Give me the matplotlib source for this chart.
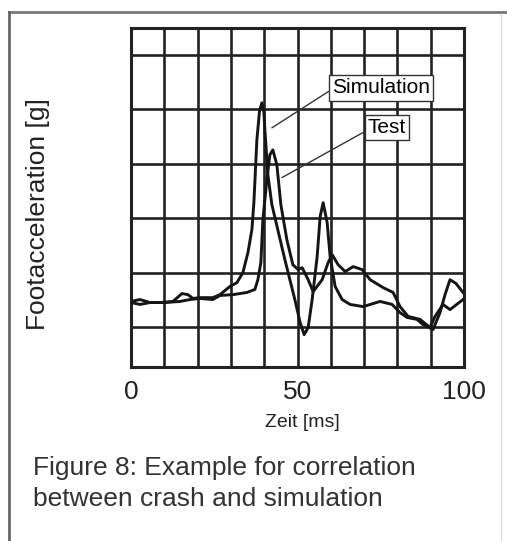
import matplotlib
matplotlib.use("Agg")
import matplotlib.pyplot as plt
from matplotlib.lines import Line2D

plt.rcParams['font.family'] = ['Liberation Sans', 'DejaVu Sans']

# values (time in ms, acceleration in g)
sim_t = [0, 2.7, 5.7, 8.7, 12.6, 15.3, 17.1, 18.6, 20.7, 24.6, 26.7, 29.7, 31.8, 33.6,
         35.1, 36.3, 36.9, 37.8, 38.6, 39.3, 39.9, 40.2, 41.1, 42.3, 46.2, 49.2, 50.8, 52.0, 53.2,
         54.4, 55.9, 56.8, 57.7, 58.9, 59.8, 61.3, 63.4, 65.8, 69.7, 74.8, 78.4, 80.8,
         82.9, 85.9, 87.7, 90.7, 92.8, 94.3, 95.8, 97.6, 99.7]
sim_g = [-10.6, -9.9, -11.0, -11.0, -10.6, -7.7, -8.1, -9.5, -9.2, -9.2, -8.1, -5.1, -3.7, 0.0,
         7.3, 15.8, 25.7, 48.8, 59.5, 62.4, 59.0, 52.5, 36.0, 25.0, 4.8, -9.9, -18.4, -22.8, -20.2,
         -9.9, 5.9, 20.6, 25.7, 18.4, 5.9, -5.1, -9.9, -11.7, -12.5, -10.6, -11.7, -14.7,
         -16.5, -17.2, -19.1, -20.9, -14.7, -8.1, -2.6, -4.0, -7.3]

test_t = [0, 2.7, 5.7, 10.2, 14.7, 17.7, 20.7, 24.6, 26.7, 30.6, 34.8, 37.2, 38.1, 39.0,
          39.6, 40.8, 41.7, 42.6, 43.8, 45.0, 46.8, 48.6, 50.2, 51.4, 53.2, 54.7, 57.4,
          59.2, 60.4, 62.2, 64.3, 66.7, 69.4, 71.8, 75.7, 78.7, 80.8, 83.2, 86.8, 89.8,
          91.3, 93.7, 95.8, 99.7]
test_g = [-11.0, -11.7, -11.0, -11.0, -10.6, -9.9, -9.5, -9.9, -8.4, -8.1, -7.3, -6.2, -2.6, 3.7,
          19.5, 34.1, 43.3, 45.1, 39.6, 25.0, 12.1, 2.9, 1.1, 1.8, -2.6, -7.0, -2.6,
          3.7, 6.6, 2.9, 0.4, 2.2, 1.1, -2.6, -5.5, -7.3, -12.5, -16.1, -17.2, -20.2,
          -16.1, -11.7, -13.6, -9.9]

x_grid = list(range(0, 101, 10))
x_labels = ['0', '', '', '', '', '50', '', '', '', '', '100']
y_grid = [-20, 0, 20, 40, 60, 80]

fig = plt.figure(figsize=(5.07, 5.41), dpi=100)
ax = fig.add_axes([0.2584, 0.3216, 0.6568, 0.6266])

ink = '#151515'
ax.plot(sim_t, sim_g, color=ink, lw=2.1, zorder=3, solid_joinstyle='round')
ax.plot(test_t, test_g, color=ink, lw=2.1, zorder=3, solid_joinstyle='round')

ax.set_xlim(0, 100)
ax.set_ylim(-34.7, 89.9)
ax.set_xticks(x_grid)
ax.set_xticklabels(x_labels)
ax.set_yticks(y_grid)
ax.set_yticklabels([])
ax.tick_params(length=0, labelsize=19, labelcolor='#222222', pad=9)
ax.grid(True, color='#222222', lw=1.9)
for s in ax.spines.values():
    s.set_color('#222222')
    s.set_linewidth(2.2)

ax.set_xlabel('Zeit [ms]', fontsize=14, color='#222222')
ax.xaxis.set_label_coords(0.516, -0.165)
ax.xaxis.label.set_va('center')
ax.set_ylabel('Footacceleration [g]', fontsize=19, color='#222222')
ax.yaxis.set_label_coords(-0.279, 0.451)
ax.yaxis.label.set_va('center')

box = dict(boxstyle='square,pad=0.15', fc='white', ec='#333333', lw=1.0)
ax.annotate('Simulation', xy=(42.3, 53.2), xytext=(75.1, 67.9), fontsize=15,
            ha='center', va='center', bbox=box, zorder=5,
            arrowprops=dict(arrowstyle='-', color='#333333', lw=1.0, relpos=(0, 0.43),
                            shrinkA=0, shrinkB=0))
ax.annotate('Test', xy=(45.3, 34.9), xytext=(76.9, 53.2), fontsize=15,
            ha='center', va='center', bbox=box, zorder=5,
            arrowprops=dict(arrowstyle='-', color='#333333', lw=1.0, relpos=(0, 0.4),
                            shrinkA=0, shrinkB=0))

fig.text(33 / 507, 1 - 475 / 541, 'Figure 8: Example for correlation',
         fontsize=19, color='#333333', va='baseline')
fig.text(33 / 507, 1 - 506 / 541, 'between crash and simulation',
         fontsize=19, color='#333333', va='baseline')

# page frame from the scan
fig.add_artist(Line2D([9 / 507, 1], [1 - 12 / 541, 1 - 12 / 541], color='#777777', lw=2))
fig.add_artist(Line2D([9 / 507, 9 / 507], [0, 1 - 12 / 541], color='#666666', lw=2))
fig.add_artist(Line2D([501 / 507, 501 / 507], [0, 1 - 14 / 541], color='#dddddd', lw=1))

fig.savefig('out.png', dpi=100)
